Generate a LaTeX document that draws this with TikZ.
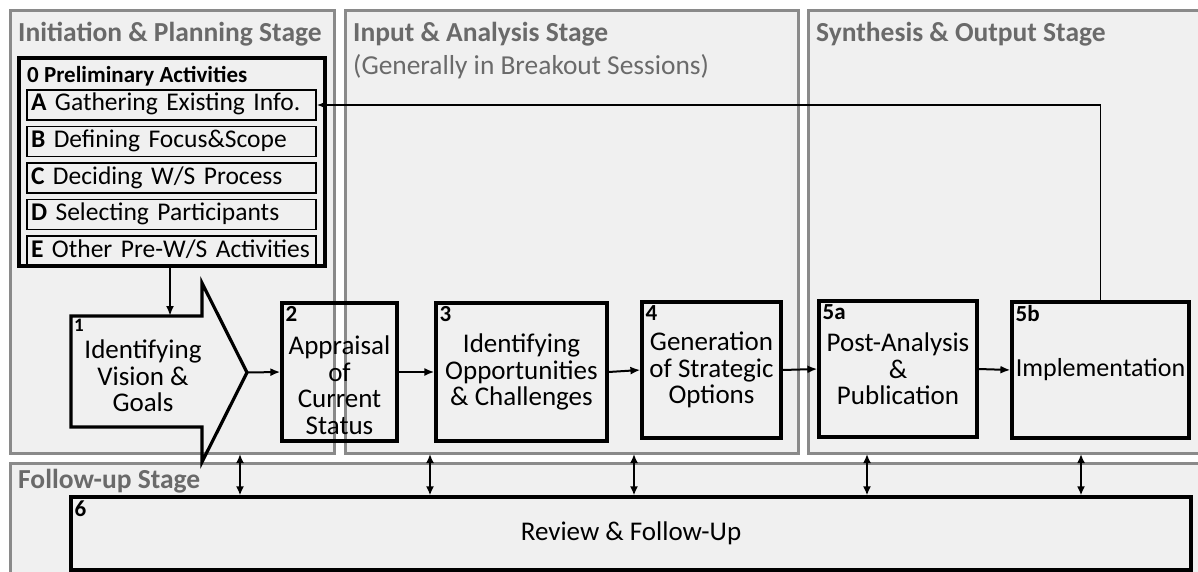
\documentclass[tikz,border=0pt]{standalone}
\usepackage{fontspec}
\setmainfont{Carlito}
\usepackage{tikz}
\usetikzlibrary{positioning,arrows.meta}
\definecolor{panelfill}{HTML}{F0F0F0}
\definecolor{paneledge}{HTML}{8A8A8A}
\definecolor{titlegray}{HTML}{6A6A6A}

\tikzset{
  panel/.style={draw=paneledge, line width=3pt, fill=panelfill, inner sep=0pt, anchor=north west},
  stagetitle/.style={text=titlegray, inner sep=0pt, anchor=base west, font=\fontsize{27.5}{29}\selectfont\bfseries},
  stagenote/.style={text=titlegray, inner sep=0pt, anchor=base west, font=\fontsize{27.4}{29}\selectfont},
  box/.style={draw, line width=3.2pt, inner sep=0pt, align=center, font=\fontsize{27}{26.5}\selectfont},
  subbox/.style={draw, line width=1.5pt, inner xsep=4pt, inner ysep=1pt, text width=281pt, text height=18pt, text depth=6pt, minimum height=30pt, align=left, font=\fontsize{25.5}{26}\selectfont},
  numlbl/.style={anchor=north west, inner sep=5pt, font=\fontsize{23}{24}\selectfont\bfseries},
  flow/.style={-{Latex[length=10pt,width=8pt]}, line width=2pt},
  updown/.style={{Latex[length=9pt,width=8pt]}-{Latex[length=9pt,width=8pt]}, line width=2pt},
  fback/.style={-{Latex[length=9pt,width=7pt]}, line width=1.3pt}
}

\begin{document}
\begin{tikzpicture}[x=1pt, y=-1pt]
  \fill[white] (0,0) rectangle (1198,572);
  \clip (0,0) rectangle (1198,572);

  % stages
  \node[panel, minimum width=324pt, minimum height=443pt] (p1) at (9,9) {};
  \node[panel, minimum width=453pt, minimum height=443pt] (p2) at (344,9) {};
  \node[panel, minimum width=410pt, minimum height=443pt] (p3) at (807,9) {};
  \node[panel, minimum width=1210pt, minimum height=130pt] (p6) at (9,462) {};

  \node[stagetitle] (s1) at (18,42) {Initiation \& Planning Stage};
  \node[stagetitle] (s2) at (353,42) {Input \& Analysis Stage};
  \node[stagenote] (s2b) at (353,75) {(Generally in Breakout Sessions)};
  \node[stagetitle] (s3) at (816,42) {Synthesis \& Output Stage};
  \node[stagetitle] (s6) at (18,488) {Follow-up Stage};

  % preliminary activities
  \node[box, minimum width=306pt, minimum height=208pt] (b0) at (172,162) {};
  \node[anchor=base west, inner sep=0pt, font=\fontsize{23}{25}\selectfont\bfseries] (t0) at (27,83) {0 Preliminary Activities};
  \node[subbox] (pA) at (171.5,105) {\mbox{\textbf{A} Gathering Existing Info.}};
  \node[subbox, below=5pt of pA] (pB) {\mbox{\textbf{B} Defining Focus\&Scope}};
  \node[subbox, below=5pt of pB] (pC) {\mbox{\textbf{C} Deciding W/S Process}};
  \node[subbox, below=5pt of pC] (pD) {\mbox{\textbf{D} Selecting Participants}};
  \node[subbox, below=5pt of pD] (pE) {\mbox{\textbf{E} Other Pre-W/S Activities}};

  % 1: arrow shape
  \draw[line width=3.2pt] (71,316) -- (202,316) -- (202,283) -- (247,372.5)
    -- (202,462) -- (202,427) -- (71,427) -- cycle;
  \coordinate (a1top) at (170,316);
  \coordinate (a1tip) at (247,372.5);
  \node[numlbl, inner sep=3pt, font=\fontsize{19}{20}\selectfont\bfseries] (n1) at (71,316) {1};
  \node[align=center, inner sep=0pt, font=\fontsize{27}{26.5}\selectfont] (t1) at (143,376) {Identifying\\Vision \&\\Goals};

  % 2 - 5b
  \node[box, minimum width=115pt, minimum height=138pt] (b2) at (339.5,372) {};
  \node[align=center, inner sep=0pt, font=\fontsize{27}{26.5}\selectfont] (t2) at ([yshift=-13pt]b2.center) {Appraisal\\of\\Current\\Status};
  \node[box, minimum width=171pt, minimum height=138pt] (b3) at (521.5,372) {Identifying\\Opportunities\\\& Challenges};
  \node[box, minimum width=139pt, minimum height=136pt] (b4) at (711.5,370) {Generation\\of Strategic\\Options};
  \node[box, minimum width=158pt, minimum height=136pt] (b5a) at (898,369) {Post-Analysis\\\&\\Publication};
  \node[box, minimum width=177pt, minimum height=136pt, font=\fontsize{26}{27}\selectfont] (b5b) at (1100.5,370) {Implementation};
  \node[box, minimum width=1120pt, minimum height=73pt] (b6) at (631,533.5) {Review \& Follow-Up};

  \node[numlbl] (n2) at (b2.north west) {2};
  \node[numlbl] (n3) at (b3.north west) {3};
  \node[numlbl] (n4) at (b4.north west) {4};
  \node[numlbl] (n5a) at (b5a.north west) {5a};
  \node[numlbl] (n5b) at (b5b.north west) {5b};
  \node[numlbl] (n6) at (b6.north west) {6};

  % connectors
  \draw[flow] (b0.south -| a1top) -- (a1top);
  \draw[flow] (a1tip) -- (b2.west);
  \draw[flow] (b2.east) -- (b3.west);
  \draw[flow] (b3.east) -- (b4.west);
  \draw[flow] (b4.east) -- (b5a.west);
  \draw[flow] (b5a.east) -- (b5b.west);
  \draw[fback] (b5b.north) |- (pA.east);

  \foreach \x [count=\i] in {240,430,634,867,1081} {
    \coordinate (f\i) at (\x,454);
    \draw[updown] (f\i) -- (f\i |- b6.north);
  }
\end{tikzpicture}
\end{document}
